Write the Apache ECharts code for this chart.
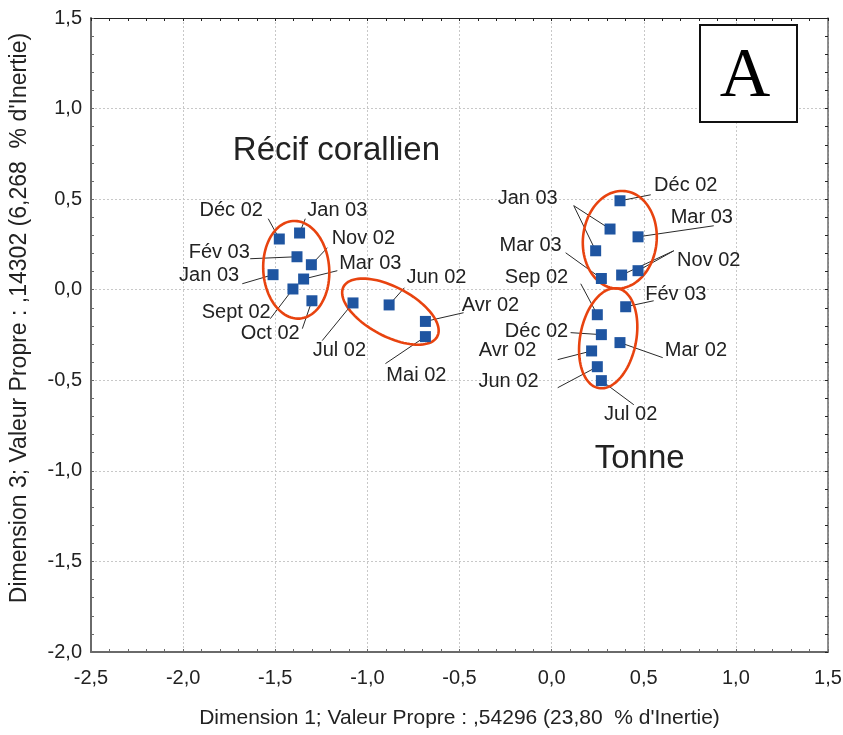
<!DOCTYPE html>
<html><head><meta charset="utf-8">
<script src="https://cdn.jsdelivr.net/npm/echarts@6/dist/echarts.min.js"></script>
<style>html,body{margin:0;padding:0;background:#fff}#c{width:843px;height:735px}</style>
</head><body><div id="c"></div>
<script>
// ---------- data ----------
const xAxisTitle = "Dimension 1; Valeur Propre : ,54296 (23,80  % d'Inertie)";
const yAxisTitle = "Dimension 3; Valeur Propre : ,14302 (6,268  % d'Inertie)";

// Récif corallien points
const coralNames = ['Déc 02','Jan 03','Fév 03','Nov 02','Jan 03','Mar 03','Sept 02','Oct 02','Jul 02','Jun 02','Avr 02','Mai 02'];
const coralX = [-1.478,-1.368,-1.382,-1.304,-1.512,-1.346,-1.404,-1.301,-1.078,-0.882,-0.685,-0.685];
const coralY = [0.280,0.313,0.182,0.138,0.083,0.059,0.004,-0.061,-0.073,-0.084,-0.175,-0.259];
// label anchors and leader starts (data units)
const coralLabX = [-1.739,-1.163,-1.804,-1.022,-1.859,-0.984,-1.712,-1.527,-1.152,-0.625,-0.332,-0.734];
const coralLabY = [0.436,0.436,0.204,0.281,0.077,0.143,-0.127,-0.243,-0.337,0.066,-0.088,-0.475];
const coralLeadX = [-1.538,-1.337,-1.636,-1.217,-1.679,-1.163,-1.527,-1.353,-1.245,-0.799,-0.478,-0.902];
const coralLeadY = [0.392,0.392,0.171,0.232,0.033,0.105,-0.160,-0.215,-0.281,0.011,-0.127,-0.408];

// Tonne points
const tonneX = [0.371,0.317,0.469,0.239,0.270,0.380,0.469,0.248,0.402,0.270,0.371,0.217,0.248,0.270];
const tonneY = [0.491,0.335,0.292,0.215,0.062,0.081,0.105,-0.138,-0.094,-0.248,-0.292,-0.338,-0.425,-0.502];
const tonneLabels = ['Déc 02','Jan 03','Mar 03','Mar 03','Nov 02','Sep 02','Fév 03','Déc 02','Mar 02','Avr 02','Jun 02','Jul 02'];
const tonneLabX = [0.728,-0.130,0.815,-0.114,0.853,-0.082,0.674,-0.082,0.783,-0.239,-0.234,0.429];
const tonneLabY = [0.574,0.502,0.397,0.243,0.160,0.066,-0.028,-0.232,-0.337,-0.337,-0.508,-0.690];
const tonneLeadX = [0.538,0.120,0.880,0.076,0.663,0.158,0.554,0.103,0.603,0.033,0.033,0.446];
const tonneLeadY = [0.524,0.464,0.353,0.204,0.215,0.033,-0.061,-0.237,-0.375,-0.386,-0.541,-0.635];
const tonneTargets = [[0],[1,3],[2],[4],[5,6],[7],[8],[9],[10],[11],[12],[13]];

// group titles
const groupNames = ['Récif corallien','Tonne'];
const groupX = [-1.168, 0.478];
const groupY = [0.767, -0.933];

// ellipses: centre, semi-axes, rotation (deg)
const ellCX = [-1.386,-0.875,0.370,0.307];
const ellCY = [0.110,-0.121,0.276,-0.268];
const ellA  = [0.179,0.288,0.200,0.152];
const ellB  = [0.270,0.136,0.270,0.280];
const ellRot = [4,-28,-6,-11];

const fmt = v => v.toFixed(1).replace('.', ',');

// ---------- build ----------
const leaders = [];
coralX.forEach((x,i)=>leaders.push({coords:[[coralLeadX[i],coralLeadY[i]],[x,coralY[i]]]}));
tonneTargets.forEach((ts,i)=>ts.forEach(t=>leaders.push({coords:[[tonneLeadX[i],tonneLeadY[i]],[tonneX[t],tonneY[t]]]})));

const labelData = [];
coralNames.forEach((n,i)=>labelData.push([coralLabX[i],coralLabY[i],n,20]));
tonneLabels.forEach((n,i)=>labelData.push([tonneLabX[i],tonneLabY[i],n,20]));
groupNames.forEach((n,i)=>labelData.push([groupX[i],groupY[i],n,33]));

const ellData = ellCX.map((c,i)=>[c,ellCY[i],ellA[i],ellB[i],ellRot[i]]);

const FONT = '"Liberation Sans", Arial, sans-serif';
const axisGray = '#6a6a6a';

const chart = echarts.init(document.getElementById('c'), null, {renderer:'canvas'});
chart.setOption({
  animation:false,
  backgroundColor:'#fff',
  grid:{left:91,right:15,top:18,bottom:83,containLabel:false,outerBoundsMode:'none'},
  xAxis:[{
    type:'value',min:-2.5,max:1.5,interval:0.5,
    name:xAxisTitle,nameLocation:'middle',nameGap:56,
    nameTextStyle:{fontFamily:FONT,fontSize:21,color:'#222'},
    axisLine:{show:true,onZero:false,lineStyle:{color:axisGray,width:2}},
    axisTick:{show:true,inside:true,length:3,lineStyle:{color:axisGray}},
    minorTick:{show:true,splitNumber:5,length:3,lineStyle:{color:axisGray}},
    axisLabel:{formatter:fmt,fontFamily:FONT,fontSize:20,color:'#222',margin:16},
    splitLine:{show:true,lineStyle:{color:'#c8c8c8',type:[2,2],width:1}}
  },{
    type:'value',position:'top',min:-2.5,max:1.5,interval:0.5,
    axisLine:{show:true,onZero:false,lineStyle:{color:'#222',width:1}},
    axisTick:{show:true,inside:true,length:3,lineStyle:{color:'#222'}},
    minorTick:{show:true,splitNumber:5,length:3,lineStyle:{color:'#222'}},
    axisLabel:{show:false},splitLine:{show:false}
  }],
  yAxis:[{
    type:'value',min:-2,max:1.5,interval:0.5,
    axisLine:{show:true,onZero:false,lineStyle:{color:axisGray,width:2}},
    axisTick:{show:true,inside:true,length:3,lineStyle:{color:axisGray}},
    minorTick:{show:true,splitNumber:5,length:3,lineStyle:{color:axisGray}},
    axisLabel:{formatter:fmt,fontFamily:FONT,fontSize:20,color:'#222',margin:9},
    splitLine:{show:true,lineStyle:{color:'#c8c8c8',type:[2,2],width:1}}
  },{
    type:'value',position:'right',min:-2,max:1.5,interval:0.5,
    axisLine:{show:true,onZero:false,lineStyle:{color:axisGray,width:1.5}},
    axisTick:{show:true,inside:true,length:3,lineStyle:{color:'#222'}},
    minorTick:{show:true,splitNumber:5,length:3,lineStyle:{color:'#222'}},
    axisLabel:{show:false},splitLine:{show:false}
  }],
  series:[
    {
      type:'lines',coordinateSystem:'cartesian2d',silent:true,z:2,
      lineStyle:{color:'#2a2a2a',width:1,opacity:1},
      data:leaders
    },
    {
      type:'custom',coordinateSystem:'cartesian2d',silent:true,z:3,clip:false,
      encode:{x:0,y:1},
      data:ellData,
      renderItem:function(params,api){
        const c = api.coord([api.value(0),api.value(1)]);
        const s = api.size([1,1]);
        const a = api.value(2)*s[0], b = api.value(3)*s[1];
        const r = api.value(4)*Math.PI/180;
        const pts=[];
        for(let k=0;k<96;k++){
          const t=2*Math.PI*k/96;
          const ux=a*Math.cos(t), uy=b*Math.sin(t);
          const rx=ux*Math.cos(r)-uy*Math.sin(r);
          const ry=ux*Math.sin(r)+uy*Math.cos(r);
          pts.push([c[0]+rx,c[1]-ry]);
        }
        return {type:'polygon',shape:{points:pts},style:{fill:'none',stroke:'#e8430f',lineWidth:2.6}};
      }
    },
    {
      type:'scatter',z:5,symbol:'rect',symbolSize:11,
      itemStyle:{color:'#1f55a1',opacity:1},
      data:coralX.map((x,i)=>[x,coralY[i]])
    },
    {
      type:'scatter',z:5,symbol:'rect',symbolSize:11,
      itemStyle:{color:'#1f55a1',opacity:1},
      data:tonneX.map((x,i)=>[x,tonneY[i]])
    },
    {
      type:'custom',coordinateSystem:'cartesian2d',silent:true,z:6,clip:false,
      encode:{x:0,y:1},
      data:labelData,
      renderItem:function(params,api){
        const c = api.coord([api.value(0),api.value(1)]);
        return {type:'text',x:c[0],y:c[1],style:{
          text:api.value(2),fill:'#222',
          font:api.value(3)+'px '+FONT,
          align:'center',verticalAlign:'middle'}};
      }
    }
  ],
  graphic:[
    {type:'text',z:11,x:20,y:318,rotation:Math.PI/2,
     style:{text:yAxisTitle,font:'23px '+FONT,fill:'#222',align:'center',verticalAlign:'middle'}},
    {type:'rect',left:699,top:24,z:10,shape:{width:97,height:97},
     style:{fill:'#fff',stroke:'#111',lineWidth:2}},
    {type:'text',z:11,x:745,y:78,style:{text:'A',font:'70px "Liberation Serif", "DejaVu Serif", serif',
     fill:'#000',align:'center',verticalAlign:'middle'}}
  ]
});
</script>
</body></html>
